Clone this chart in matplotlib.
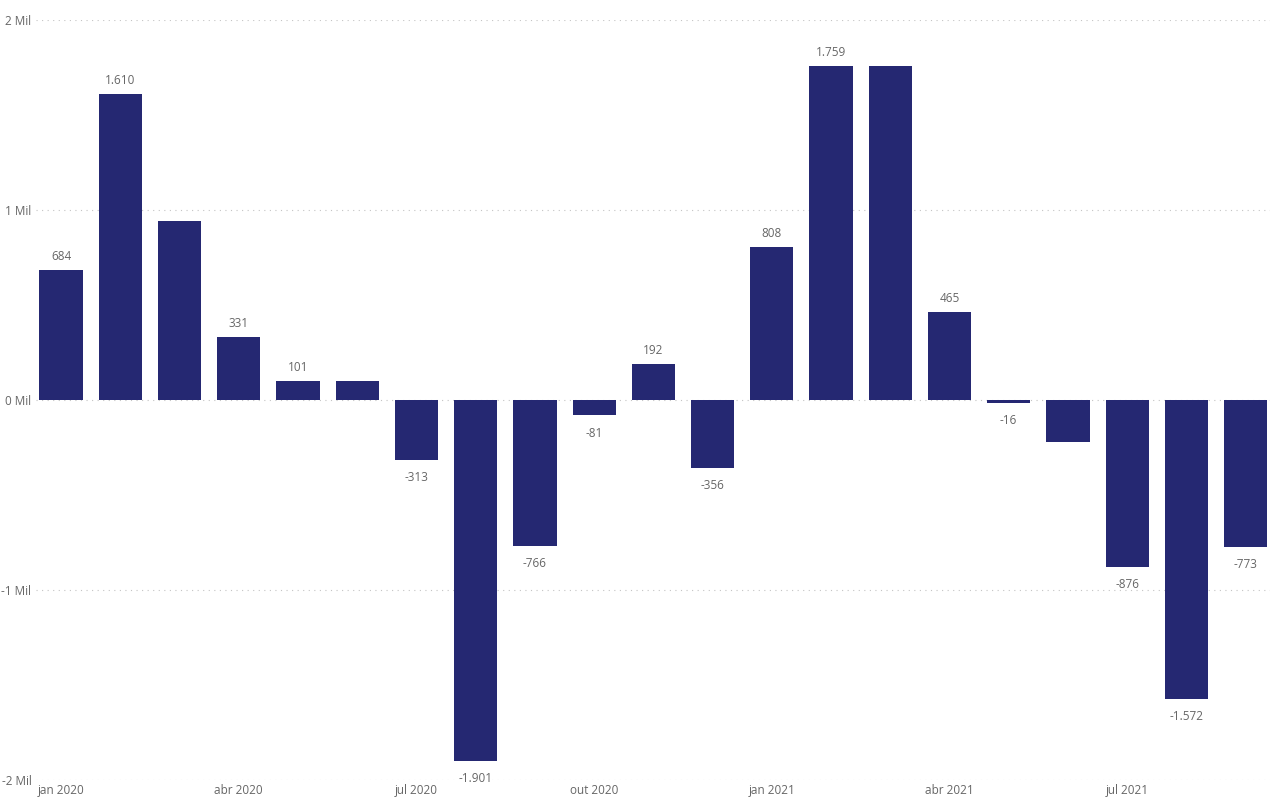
import matplotlib.pyplot as plt

# monthly values (thousands), jan 2020 .. set 2021
months = ['jan 2020', 'fev 2020', 'mar 2020', 'abr 2020', 'mai 2020', 'jun 2020',
          'jul 2020', 'ago 2020', 'set 2020', 'out 2020', 'nov 2020', 'dez 2020',
          'jan 2021', 'fev 2021', 'mar 2021', 'abr 2021', 'mai 2021', 'jun 2021',
          'jul 2021', 'ago 2021', 'set 2021']
values = [684, 1610, 942, 331, 101, 98, -313, -1901, -766, -81, 192, -356,
          808, 1759, 1756, 465, -16, -221, -876, -1572, -773]
# bars whose label is shown in the original
shown = [True, True, False, True, True, False, True, True, True, True, True, True,
         True, True, False, True, True, False, True, True, True]
tick_pos = [0, 3, 6, 9, 12, 15, 18]
y_ticks = [-2000, -1000, 0, 1000, 2000]
y_labels = ['-2 Mil', '-1 Mil', '0 Mil', '1 Mil', '2 Mil']

bar_color = '#252872'
text_color = '#666666'

plt.rcParams['font.family'] = ['Open Sans', 'DejaVu Sans']

fig = plt.figure(figsize=(12.73, 8.05), dpi=100)
ax = fig.add_axes([0.028, 0.031, 0.97, 0.944])

x = list(range(len(values)))
ax.bar(x, values, width=0.73, color=bar_color, zorder=3)

def fmt(v):
    s = '{:,}'.format(abs(v)).replace(',', '.')
    return '-' + s if v < 0 else s

for i, v in enumerate(values):
    if not shown[i]:
        continue
    if v >= 0:
        ax.annotate(fmt(v), (i, v), xytext=(0, 5), textcoords='offset points',
                    ha='center', va='bottom', fontsize=8.5, color=text_color)
    else:
        ax.annotate(fmt(v), (i, v), xytext=(0, -8), textcoords='offset points',
                    ha='center', va='top', fontsize=8.5, color=text_color)

ax.set_xlim(-0.43, 20.42)
ax.set_ylim(-2000, 2000)
ax.set_yticks(y_ticks)
ax.set_yticklabels(y_labels, fontsize=8.5, color=text_color)
ax.set_xticks(tick_pos)
ax.set_xticklabels([months[i] for i in tick_pos], fontsize=8.5, color=text_color)
ax.tick_params(length=0, pad=3)
ax.grid(axis='y', linestyle=(0, (1, 4)), color='#c4c4c4', linewidth=0.8, zorder=0)
for s in ax.spines.values():
    s.set_visible(False)

fig.savefig('out.png', dpi=100)
